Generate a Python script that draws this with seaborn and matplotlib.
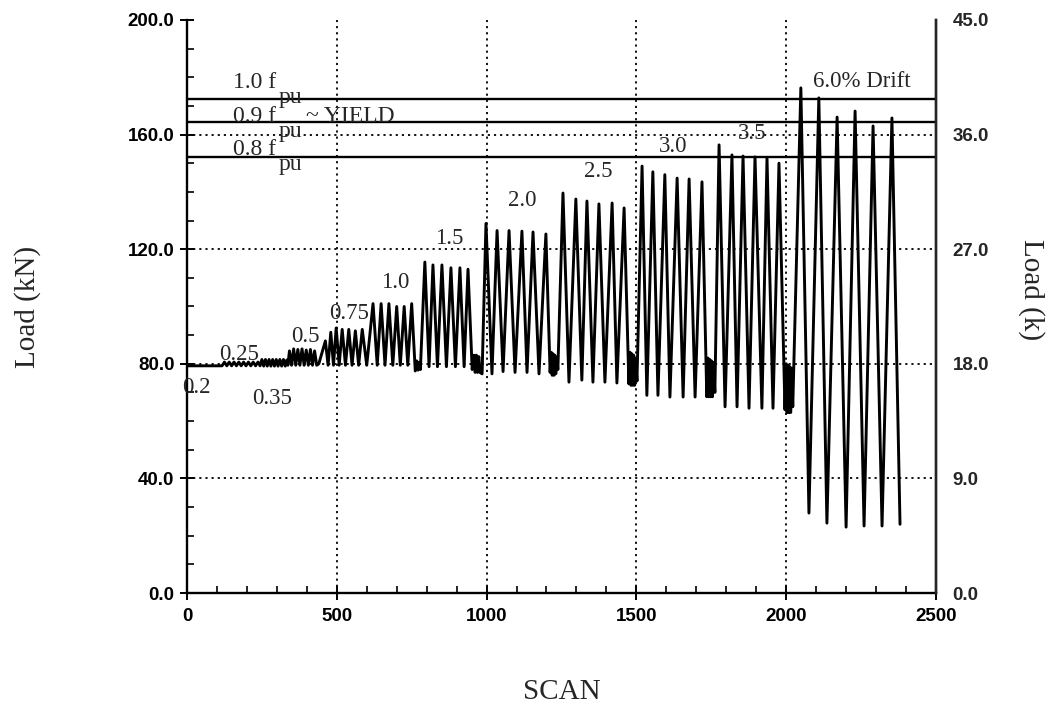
import matplotlib
matplotlib.use("Agg")
import matplotlib.pyplot as plt
from matplotlib.ticker import FormatStrFormatter, MultipleLocator
import numpy as np
import pandas as pd
import seaborn as sns

# ---------------- data (vertices of the load history) ----------
scan_02 = [0, 117]
load_02 = [79.3, 79.3]

scan_025 = [125, 133, 141, 149, 157, 165, 173, 181, 189, 197, 205, 213, 221, 229, 237, 244]
load_025 = [80.6, 79.3, 80.6, 79.3, 80.6, 79.3, 80.6, 79.3, 80.6, 79.3, 80.6, 79.3, 80.6, 79.3, 80.6, 79.3]

scan_035 = [250, 256, 262, 268, 274, 280, 286, 292, 298, 304, 310, 316, 322, 328, 333, 337]
load_035 = [81.5, 79.2, 81.5, 79.2, 81.5, 79.2, 81.5, 79.2, 81.5, 79.2, 81.5, 79.2, 81.5, 79.2, 81.3, 79.5]

scan_05 = [342, 349, 356, 363, 370, 377, 384, 391, 398, 405, 412, 419, 426, 433, 440]
load_05 = [84.5, 79.5, 85.2, 79.5, 85.0, 79.5, 85.2, 79.5, 84.8, 79.5, 85.0, 79.5, 84.5, 79.5, 80.0]

scan_075 = [462, 471, 480, 489, 498, 508, 518, 529, 540, 551, 562, 573, 585, 600]
load_075 = [88.0, 79.5, 91.0, 79.5, 92.5, 79.5, 92.0, 79.5, 92.0, 79.5, 91.5, 79.5, 92.0, 79.5]

scan_10 = [621, 635, 648, 661, 674, 687, 700, 712, 725, 737, 750, 762, 767, 771, 775, 779]
load_10 = [101.0, 79.5, 101.0, 79.5, 101.0, 79.5, 100.0, 79.5, 100.0, 79.5, 101.0, 77.5, 81.0, 77.8, 80.5, 78.0]

scan_15 = [794, 808, 821, 836, 851, 866, 881, 896, 911, 925, 938, 952, 958, 962, 966, 970, 974, 978, 985]
load_15 = [115.5, 79.0, 114.5, 79.0, 114.5, 79.0, 113.5, 79.0, 113.5, 79.0, 113.0, 78.0, 83.0, 77.0, 83.0, 77.0, 82.5, 77.0, 76.5]

scan_20 = [998, 1018, 1035, 1055, 1075, 1095, 1118, 1135, 1155, 1175, 1198, 1212, 1216, 1219, 1222, 1225, 1228, 1231, 1234, 1238]
load_20 = [129.0, 76.5, 126.5, 77.3, 126.5, 77.0, 126.3, 77.0, 126.0, 76.5, 125.3, 77.0, 84.0, 76.0, 83.5, 76.0, 83.0, 76.5, 82.0, 78.0]

scan_25 = [1255, 1275, 1298, 1318, 1335, 1355, 1375, 1395, 1419, 1435, 1459, 1475, 1479, 1482, 1485, 1488, 1491, 1494, 1497, 1502]
load_25 = [139.6, 73.6, 137.5, 74.3, 136.8, 73.6, 135.8, 73.6, 136.1, 73.3, 134.4, 73.0, 84.0, 72.5, 83.5, 72.5, 83.0, 72.5, 82.0, 74.0]

scan_30 = [1519, 1535, 1555, 1572, 1595, 1612, 1636, 1656, 1676, 1696, 1719, 1735, 1739, 1742, 1745, 1748, 1751, 1754, 1757, 1762]
load_30 = [149.0, 69.0, 147.0, 69.0, 146.0, 68.4, 144.8, 68.4, 144.5, 68.4, 143.5, 68.5, 82.0, 68.5, 81.5, 68.5, 81.0, 68.5, 80.5, 70.0]

scan_35 = [1776, 1796, 1819, 1836, 1856, 1876, 1896, 1919, 1936, 1956, 1976, 1996, 2000, 2003, 2006, 2009, 2012, 2015, 2018, 2022]
load_35 = [156.4, 65.0, 152.9, 65.0, 152.5, 64.5, 152.2, 64.5, 151.8, 64.5, 150.0, 64.0, 80.0, 63.0, 79.5, 63.0, 79.0, 63.0, 78.5, 65.0]

scan_60 = [2049, 2076, 2109, 2136, 2170, 2200, 2230, 2260, 2290, 2320, 2353, 2380]
load_60 = [176.3, 27.9, 172.8, 24.4, 166.1, 23.0, 168.2, 23.4, 163.0, 23.4, 165.8, 24.0]

# reference strength lines (kN)
fpu_levels = [172.4, 164.3, 152.1]
fpu_names = ["1.0 f", "0.9 f", "0.8 f"]

# drift level labels
drift_labels = ["0.2", "0.25", "0.35", "0.5", "0.75", "1.0", "1.5", "2.0", "2.5", "3.0", "3.5", "6.0% Drift"]

x_ticks = [0, 500, 1000, 1500, 2000, 2500]
y_ticks_kN = [0, 40, 80, 120, 160, 200]
y_ticks_k = [0, 9, 18, 27, 36, 45]

# ---------------- build series ----------------
scans = (scan_02 + scan_025 + scan_035 + scan_05 + scan_075 + scan_10 + scan_15 +
         scan_20 + scan_25 + scan_30 + scan_35 + scan_60)
loads = (load_02 + load_025 + load_035 + load_05 + load_075 + load_10 + load_15 +
         load_20 + load_25 + load_30 + load_35 + load_60)
df = pd.DataFrame({"scan": scans, "load": loads})

# ---------------- figure ----------------
sns.set_style("ticks")
plt.rcParams["font.family"] = ["Liberation Sans", "DejaVu Sans"]

fig = plt.figure(figsize=(10.63, 7.08), dpi=100)
ax = fig.add_axes([0.1759, 0.1624, 0.7046, 0.8094])

serif = ["Liberation Serif", "DejaVu Serif"]

# grid (interior dotted lines)
for gx in x_ticks[1:-1]:
    ax.axvline(gx, color="black", lw=1.3, ls=(0, (1.2, 2.2)), zorder=1)
for gy in y_ticks_kN[1:-1]:
    ax.axhline(gy, color="black", lw=1.3, ls=(0, (1.2, 2.2)), zorder=1)

# fpu lines
for lv in fpu_levels:
    ax.axhline(lv, color="black", lw=1.7, zorder=2)

sns.lineplot(data=df, x="scan", y="load", sort=False, estimator=None,
             color="black", lw=2.1, ax=ax, zorder=3)

ax.set_xlim(0, 2500)
ax.set_ylim(0, 200)
ax.set_xticks(x_ticks)
ax.set_yticks(y_ticks_kN)
ax.yaxis.set_major_formatter(FormatStrFormatter("%.1f"))
ax.xaxis.set_minor_locator(MultipleLocator(100))
ax.yaxis.set_minor_locator(MultipleLocator(10))

ax.spines["top"].set_visible(False)
for s in ["left", "bottom", "right"]:
    ax.spines[s].set_linewidth(1.7)
    ax.spines[s].set_color("black")

ax.tick_params(axis="both", which="major", direction="inout", length=10, width=1.4,
               color="black", labelsize=13.5, labelcolor="black")
ax.tick_params(axis="both", which="minor", direction="in", length=5, width=1.2, color="black")
ax.tick_params(axis="y", which="major", pad=4)
ax.tick_params(axis="x", which="major", pad=6)
for lab in ax.get_xticklabels() + ax.get_yticklabels():
    lab.set_fontweight("bold")

ax.set_xlabel("SCAN", fontsize=21, family=serif)
ax.set_ylabel("Load (kN)", fontsize=21, family=serif)
ax.xaxis.set_label_coords(0.5, -0.15)
ax.yaxis.set_label_coords(-0.195, 0.5)

# right axis
ax2 = ax.twinx()
ax2.set_ylim(0, 45)
ax2.set_yticks(y_ticks_k)
ax2.yaxis.set_major_formatter(FormatStrFormatter("%.1f"))
ax2.tick_params(axis="y", which="both", length=0, pad=12, labelsize=13.5)
for lab in ax2.get_yticklabels():
    lab.set_fontweight("bold")
for s in ["top", "left", "bottom"]:
    ax2.spines[s].set_visible(False)
ax2.spines["right"].set_linewidth(1.7)
ax2.set_ylabel("Load (k)", fontsize=21, family=serif, rotation=270)
ax2.yaxis.set_label_coords(1.145, 0.53)

# fpu text labels
fpu_text_y = [176.3, 164.4, 152.9]
for name, ty in zip(fpu_names, fpu_text_y):
    ax.text(154, ty, name, family=serif, fontsize=17, va="baseline", ha="left", zorder=4)
    ax.text(306, ty + 0.3, "pu", family=serif, fontsize=17, va="top", ha="left", zorder=4)
ax.text(396, 164.4, "~ YIELD", family=serif, fontsize=17, va="baseline", ha="left", zorder=4)

# drift labels
label_pos = [(33, 71.9), (174, 83.4), (284, 68.0), (394, 89.7), (541, 97.7), (694, 108.2),
             (874, 123.9), (1118, 137.0), (1372, 147.0), (1622, 156.0), (1886, 160.5),
             (2253, 178.6)]
for txt, (lx, ly) in zip(drift_labels, label_pos):
    ax.text(lx, ly, txt, family=serif, fontsize=16.5, ha="center", va="center",
            zorder=4, clip_on=False)

fig.savefig("out.png", dpi=100)
